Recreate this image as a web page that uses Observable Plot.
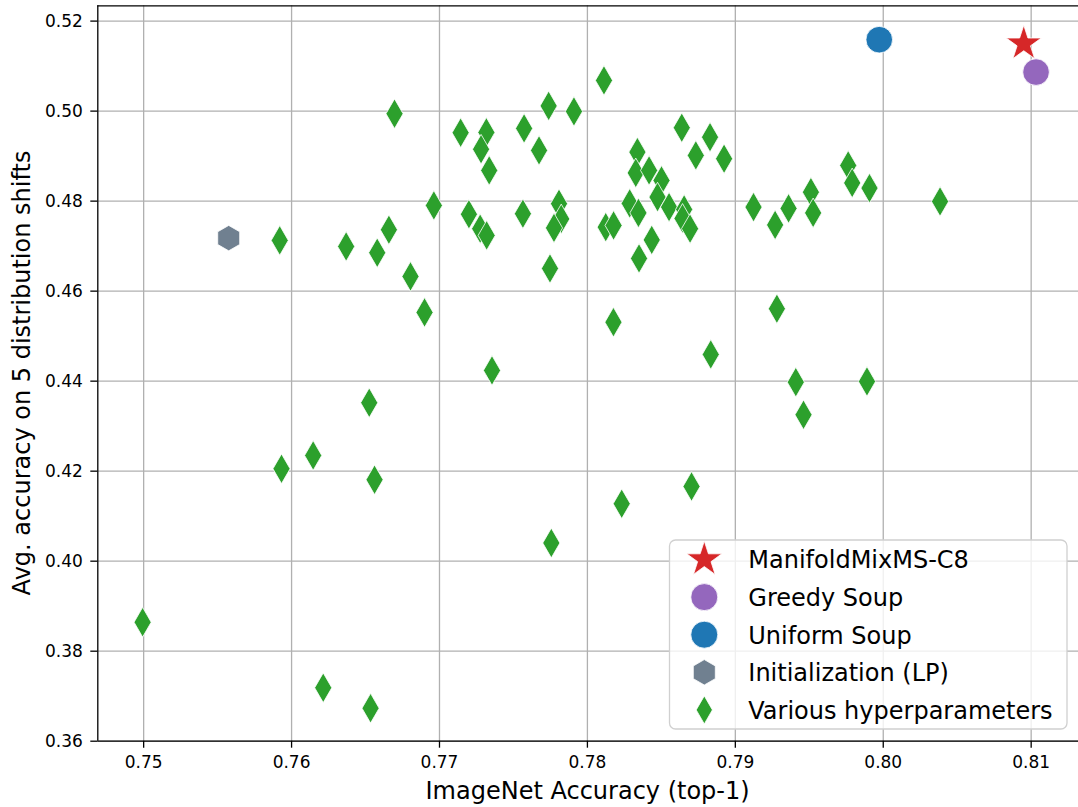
<!DOCTYPE html>
<html><head><meta charset="utf-8">
<script src="https://cdn.jsdelivr.net/npm/d3@7"></script>
<script src="https://cdn.jsdelivr.net/npm/@observablehq/plot@0.6"></script>
<style>
html,body{margin:0;padding:0;background:#fff;}
#chart{position:relative;width:1078px;height:807px;}
</style>
</head><body><div id="chart"></div>
<script>
// ---- data ----
const xTicks = [0.75, 0.76, 0.77, 0.78, 0.79, 0.80, 0.81];
const yTicks = [0.36, 0.38, 0.40, 0.42, 0.44, 0.46, 0.48, 0.50, 0.52];
const xDomain = [0.7469, 0.8132];
const yDomain = [0.36, 0.5234];

// Various hyperparameters (ImageNet acc, avg shift acc)
const hpX = [0.74993,0.75920,0.75932,0.76146,0.76214,0.76369,0.76525,0.76534,0.76561,0.76579,
  0.76658,0.76696,0.76804,0.76899,0.76962,0.77143,0.77199,0.77275,0.77319,0.77317,
  0.77281,0.77336,0.77355,0.77564,0.77572,0.77673,0.77738,0.77909,0.77808,0.77823,
  0.77774,0.77747,0.77756,0.78112,0.78124,0.78177,0.78176,0.78232,0.78286,0.78345,
  0.78338,0.78327,0.78417,0.78501,0.78474,0.78435,0.78349,0.78552,0.78654,0.78643,
  0.78694,0.78638,0.78733,0.78829,0.78704,0.78834,0.78924,0.79123,0.79269,0.79281,
  0.79360,0.79409,0.79461,0.79511,0.79526,0.79763,0.79790,0.79890,0.79907,0.80384];
const hpY = [0.38644,0.47127,0.42053,0.42349,0.37187,0.46993,0.43520,0.36733,0.41809,0.46853,
  0.47364,0.49942,0.46327,0.45527,0.47904,0.49520,0.47709,0.47387,0.47238,0.49527,
  0.49153,0.48682,0.44238,0.47720,0.49616,0.49127,0.50116,0.49993,0.47942,0.47604,
  0.47404,0.46504,0.40404,0.50682,0.47422,0.47460,0.45311,0.41276,0.47949,0.47738,
  0.49089,0.48627,0.48682,0.48460,0.48089,0.47138,0.46727,0.47867,0.47816,0.47616,
  0.47387,0.49631,0.49016,0.49422,0.41660,0.44593,0.48942,0.47867,0.47471,0.45609,
  0.47838,0.43978,0.43253,0.48200,0.47738,0.48793,0.48404,0.43993,0.48289,0.47993];

const starX = [0.8095],  starY = [0.51498];   // ManifoldMixMS-C8
const greedyX = [0.81033], greedyY = [0.50867]; // Greedy Soup
const uniformX = [0.79973], uniformY = [0.51587]; // Uniform Soup
const initX = [0.75575], initY = [0.47178];   // Initialization (LP)

const legendLabels = ["ManifoldMixMS-C8","Greedy Soup","Uniform Soup","Initialization (LP)","Various hyperparameters"];
const colors = {star:"#d62728", greedy:"#9467bd", uniform:"#1f77b4", init:"#708090", hp:"#2ca02c"};

const xLabel = "ImageNet Accuracy (top-1)";
const yLabel = "Avg. accuracy on 5 distribution shifts";

// ---- chart ----
const pts = (xs, ys) => xs.map((x, i) => ({x, y: ys[i]}));
const fmt = d3.format(".2f");
const gridStyle = {stroke: "#b0b0b0", strokeOpacity: 1, strokeWidth: 1.3};

const svg = Plot.plot({
  width: 1078, height: 807,
  marginLeft: 97.3, marginRight: 0, marginTop: 5.3, marginBottom: 66.3,
  style: {fontFamily: "DejaVu Sans, sans-serif", fontSize: "17px", color: "black", background: "white"},
  x: {domain: xDomain, label: null},
  y: {domain: yDomain, label: null},
  marks: [
    Plot.gridX(xTicks, gridStyle),
    Plot.gridY(yTicks, gridStyle),
    Plot.axisX(xTicks, {tickSize: 7, tickPadding: 8, tickFormat: fmt, fontSize: 17, strokeWidth: 1.3, label: null}),
    Plot.axisY(yTicks, {tickSize: 7, tickPadding: 8, tickFormat: fmt, fontSize: 17, strokeWidth: 1.3, label: null}),
    Plot.ruleX([xDomain[0]], {stroke: "black", strokeWidth: 1.3}),
    Plot.ruleY(yDomain, {stroke: "black", strokeWidth: 1.3}),
    Plot.dot(pts(starX, starY), {x: "x", y: "y", symbol: "star", r: 11, fill: colors.star, stroke: "white", strokeWidth: 0.8}),
    Plot.dot(pts(greedyX, greedyY), {x: "x", y: "y", symbol: "circle", r: 13.3, fill: colors.greedy, stroke: "white", strokeWidth: 0.8}),
    Plot.dot(pts(uniformX, uniformY), {x: "x", y: "y", symbol: "circle", r: 13.3, fill: colors.uniform, stroke: "white", strokeWidth: 0.8}),
    Plot.dot(pts(initX, initY), {x: "x", y: "y", symbol: "hexagon", r: 11, fill: colors.init, stroke: "white", strokeWidth: 0.8}),
    Plot.dot(pts(hpX, hpY), {x: "x", y: "y", symbol: "diamond", r: 9, fill: colors.hp, stroke: "white", strokeWidth: 0.8})
  ]
});

document.getElementById("chart").appendChild(svg);

// ---- axis labels ----
const s = d3.select(svg);
s.append("text").attr("x", 587.6).attr("y", 799).attr("text-anchor", "middle")
  .attr("font-family", "DejaVu Sans, sans-serif").attr("font-size", 24).attr("fill", "black").text(xLabel);
s.append("text").attr("transform", "translate(30,373) rotate(-90)").attr("text-anchor", "middle")
  .attr("font-family", "DejaVu Sans, sans-serif").attr("font-size", 24).attr("fill", "black").text(yLabel);

// ---- legend ----
const lg = s.append("g");
lg.append("rect").attr("x", 669.5).attr("y", 540).attr("width", 397.5).attr("height", 189)
  .attr("rx", 6).attr("fill", "white").attr("fill-opacity", 0.8).attr("stroke", "#d0d0d0").attr("stroke-width", 1.3);
const symX = 704.3, txtX = 748.3, y0 = 559.5, dy = 37.6;
const hexPath = (rx) => { const ry = rx * Math.sqrt(4/3), hy = ry / 2;
  return `M0,${ry}L${rx},${hy}L${rx},${-hy}L0,${-ry}L${-rx},${-hy}L${-rx},${hy}Z`; };
const legendSym = [
  {d: d3.symbol(d3.symbolStar, Math.PI * 11 * 11)(), c: colors.star},
  {d: d3.symbol(d3.symbolCircle, Math.PI * 13.5 * 13.5)(), c: colors.greedy},
  {d: d3.symbol(d3.symbolCircle, Math.PI * 13.5 * 13.5)(), c: colors.uniform},
  {d: hexPath(11), c: colors.init},
  {d: d3.symbol(d3.symbolDiamond, Math.PI * 8.5 * 8.5)(), c: colors.hp}
];
legendLabels.forEach((label, i) => {
  const cy = y0 + i * dy;
  lg.append("path").attr("d", legendSym[i].d).attr("transform", `translate(${symX},${cy})`)
    .attr("fill", legendSym[i].c).attr("stroke", "white").attr("stroke-width", 0.8);
  lg.append("text").attr("x", txtX).attr("y", cy + 8.8).attr("text-anchor", "start")
    .attr("font-family", "DejaVu Sans, sans-serif").attr("font-size", 24).attr("fill", "black").text(label);
});
</script></body></html>
